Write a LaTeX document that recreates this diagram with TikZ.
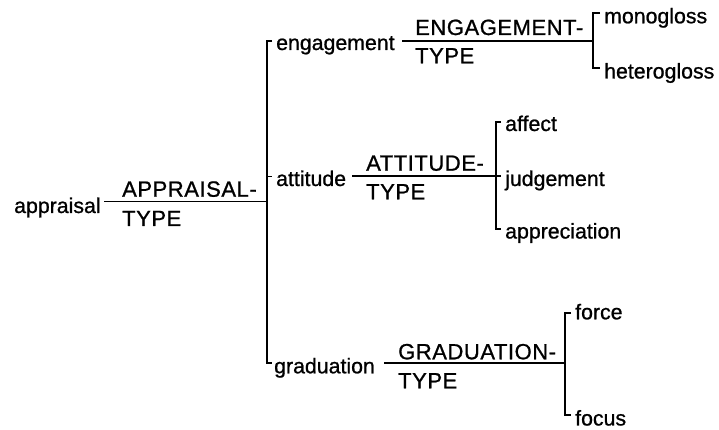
\documentclass[tikz,border=0pt]{standalone}
\usepackage{fontspec}
\setmainfont[FakeBold=0.9]{Liberation Sans}
\newfontfamily\sysfont[LetterSpace=2.5,FakeBold=0.9]{Liberation Sans}
\usetikzlibrary{calc}
\tikzset{
  tree/.style={line width=1.6pt},
  leaf/.style={anchor=base west, inner sep=0pt, font=\fontsize{21.3}{24}\selectfont},
  sysname/.style={anchor=base west, inner sep=0pt, font=\sysfont\fontsize{22}{24}\selectfont},
}

\begin{document}
\begin{tikzpicture}[x=1pt,y=1pt]
  \useasboundingbox (0,0) rectangle (719,430);

  %% Entry condition
  \node[leaf] (appraisal) at (14,217) {appraisal};
  \coordinate (appraisal-in) at (104,228.3);
  \coordinate (appraisal-fork) at (267,228.3);
  \draw[tree] (appraisal-in) -- (appraisal-fork);
  \node[sysname] (appraisal-sys) at (122,233.3) {APPRAISAL-};
  \node[sysname] (appraisal-type) at (122,204) {TYPE};

  %% First bracket
  \coordinate (appraisal-top) at (267,389);
  \coordinate (appraisal-bot) at (267,66.7);
  \draw[tree] ($(appraisal-top)+(5,0)$) -- (appraisal-top) -- (appraisal-bot) -- +(5,0);
  \draw[tree] (267,253.5) -- +(5,0);
  \foreach \n/\x/\y in {engagement/276/380,
                        attitude/276/244,
                        graduation/274/56.7
                        }{
    \node[leaf] (\n) at (\x,\y) {\n};
  }

  %% Engagement system
  \coordinate (engagement-in) at (402,389);
  \coordinate (engagement-fork) at (593,389);
  \draw[tree] (engagement-in) -- (engagement-fork);
  \node[sysname] (engagement-sys) at (415,395) {ENGAGEMENT-};
  \node[sysname] (engagement-type) at (415,366.7) {TYPE};
  \draw[tree] (600,416.7) -- (593,416.7) -- (593,362) -- (600,362);
  \node[leaf] (monogloss) at (604,406.7) {monogloss};
  \node[leaf] (heterogloss) at (604,351.5) {heterogloss};

  %% Attitude system
  \coordinate (attitude-in) at (352,254);
  \coordinate (attitude-fork) at (501,254);
  \draw[tree] (attitude-in) -- (attitude-fork);
  \node[sysname] (attitude-sys) at (366,259.3) {ATTITUDE-};
  \node[sysname] (attitude-type) at (366,230.7) {TYPE};
  \draw[tree] (501,308) -- (496,308) -- (496,201) -- (501,201);
  \foreach \n/\y in {affect/299, judgement/244, appreciation/191.5}{
    \node[leaf] (\n) at (505,\y) {\n};
  }

  %% Graduation system
  \coordinate (graduation-in) at (384,66.7);
  \coordinate (graduation-fork) at (565,66.7);
  \draw[tree] (graduation-in) -- (graduation-fork);
  \node[sysname] (graduation-sys) at (398,70.7) {GRADUATION-};
  \node[sysname] (graduation-type) at (398,41.7) {TYPE};
  \draw[tree] (571,117) -- (565,117) -- (565,15) -- (571,15);
  \node[leaf] (force) at (575,110.7) {force};
  \node[leaf] (focus) at (575,4.5) {focus};

\end{tikzpicture}
\end{document}
